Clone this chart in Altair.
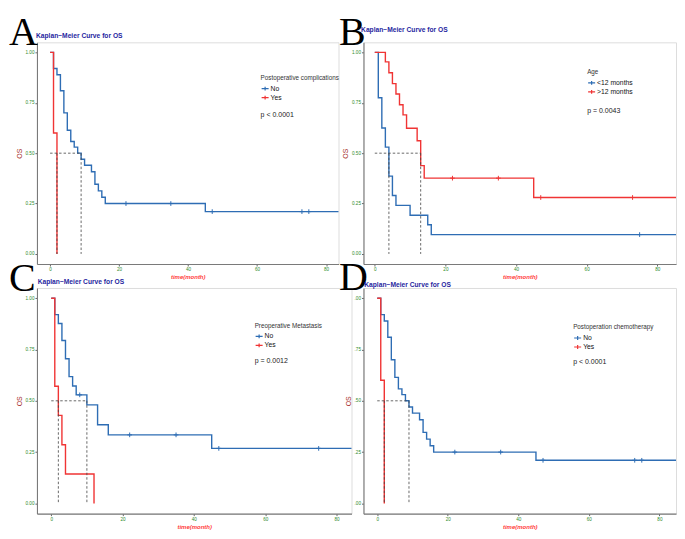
import altair as alt
import pandas as pd

# ---------------- data ----------------
# Panel A - Postoperative complications
A_GROUPS = ["No", "Yes"]
A_NO_TIME = [0, 1, 2, 3, 4, 5, 6, 7, 8, 9, 10, 12, 13, 14, 15, 16, 45, 90]
A_NO_SURV = [1.00, 0.92, 0.889, 0.81, 0.70, 0.614, 0.558, 0.53, 0.50, 0.47, 0.44, 0.408, 0.346, 0.313, 0.281, 0.25, 0.21, 0.21]
A_NO_CENS_TIME = [22, 35, 47, 73, 75]
A_NO_CENS_SURV = [0.25, 0.25, 0.21, 0.21, 0.21]
A_YES_TIME = [0, 1, 2]
A_YES_SURV = [1.00, 0.60, 0.00]
A_YES_CENS_TIME = []
A_YES_CENS_SURV = []
A_MEDIANS = [9, 2]
A_PVALUE = "p < 0.0001"

# Panel B - Age
B_GROUPS = ["<12 months", ">12 months"]
B_LT_TIME = [0, 1, 2, 3, 4, 5, 6, 10, 15, 16, 90]
B_LT_SURV = [1.00, 0.775, 0.625, 0.53, 0.386, 0.29, 0.241, 0.192, 0.145, 0.096, 0.096]
B_LT_CENS_TIME = [75]
B_LT_CENS_SURV = [0.096]
B_GT_TIME = [0, 3, 4, 5, 6, 7, 8, 9, 12, 13, 14, 45, 90]
B_GT_SURV = [1.00, 0.953, 0.899, 0.845, 0.794, 0.74, 0.69, 0.624, 0.562, 0.438, 0.376, 0.28, 0.28]
B_GT_CENS_TIME = [22, 35, 47, 73]
B_GT_CENS_SURV = [0.376, 0.376, 0.28, 0.28]
B_MEDIANS = [4, 13]
B_PVALUE = "p = 0.0043"

# Panel C - Preoperative Metastasis
C_GROUPS = ["No", "Yes"]
C_NO_TIME = [0, 1, 2, 3, 4, 5, 6, 7, 10, 13, 16, 45, 90]
C_NO_SURV = [1.00, 0.92, 0.877, 0.794, 0.705, 0.618, 0.572, 0.529, 0.48, 0.383, 0.334, 0.268, 0.268]
C_NO_CENS_TIME = [8, 22, 35, 47, 75]
C_NO_CENS_SURV = [0.529, 0.334, 0.334, 0.268, 0.268]
C_YES_TIME = [0, 1, 2, 3, 4, 12]
C_YES_SURV = [1.00, 0.571, 0.429, 0.286, 0.143, 0.00]
C_YES_CENS_TIME = []
C_YES_CENS_SURV = []
C_MEDIANS = [10, 2]
C_PVALUE = "p = 0.0012"

# Panel D - Postoperation chemotherapy
D_GROUPS = ["No", "Yes"]
D_NO_TIME = [0, 1, 2, 3, 4, 5, 6, 7, 8, 9, 10, 12, 13, 14, 15, 16, 45, 90]
D_NO_SURV = [1.00, 0.92, 0.889, 0.81, 0.70, 0.614, 0.558, 0.53, 0.50, 0.47, 0.44, 0.408, 0.346, 0.313, 0.281, 0.25, 0.21, 0.21]
D_NO_CENS_TIME = [22, 35, 47, 73, 75]
D_NO_CENS_SURV = [0.25, 0.25, 0.21, 0.21, 0.21]
D_YES_TIME = [0, 1, 2]
D_YES_SURV = [1.00, 0.60, 0.00]
D_YES_CENS_TIME = []
D_YES_CENS_SURV = []
D_MEDIANS = [9, 2]
D_PVALUE = "p < 0.0001"

X_TICKS = [0, 20, 40, 60, 80]
Y_TICKS = [0, 0.25, 0.5, 0.75, 1.0]

# ---------------- styling ----------------
BLUE = "#2E6DB4"
RED = "#F03434"
PLUS = "M0,-1V1M-1,0H1"
LEG_SYMBOL = "M-1,0H1M0,-0.55V0.55"
SANS = "Liberation Sans"


def km_panel(groups, curves, censors, medians, legend_title, pvalue, letter,
             width, height, xdom, pos, ylabel_expr=None):
    rows = []
    for g, (ts, ss) in zip(groups, curves):
        rows += [{"t": t, "s": s, "grp": g} for t, s in zip(ts, ss)]
    curve_df = pd.DataFrame(rows)
    crow = []
    for g, (ts, ss) in zip(groups, censors):
        crow += [{"t": t, "s": s, "grp": g} for t, s in zip(ts, ss)]
    cens_df = pd.DataFrame(crow, columns=["t", "s", "grp"])
    med_df = pd.DataFrame(
        [{"t": 0, "t2": max(medians), "s": 0.5, "s2": 0.5}]
        + [{"t": m, "t2": m, "s": 0.5, "s2": 0.0} for m in medians]
    )

    xaxis = alt.Axis(values=X_TICKS, title="time(month)", titleColor="#FF3B3B",
                     titleFontStyle="italic", titleFontWeight="bold", titleFontSize=6,
                     titlePadding=2, labelColor="#2E8B2E", labelFontSize=4.6,
                     labelPadding=1, tickSize=2, tickColor="#666", domainColor="#7A7A7A",
                     domainWidth=1.1, grid=False, labelFlush=False)
    ykw = dict(values=Y_TICKS, format=".2f", title="OS", titleColor="#A52A2A",
               titleFontSize=7, titleFontWeight="normal", titlePadding=3,
               labelColor="#2E8B2E", labelFontSize=4.6, labelPadding=1, tickSize=2,
               tickColor="#666", domainColor="#7A7A7A", domainWidth=1.1, grid=False,
               labelFlush=False)
    if ylabel_expr:
        ykw["labelExpr"] = ylabel_expr
    x = alt.X("t:Q", scale=alt.Scale(domain=xdom, nice=False, zero=False), axis=xaxis)
    y = alt.Y("s:Q", scale=alt.Scale(domain=[-0.05, 1.05], nice=False, zero=False),
              axis=alt.Axis(**ykw))
    color = alt.Color(
        "grp:N",
        scale=alt.Scale(domain=groups, range=[BLUE, RED]),
        legend=alt.Legend(orient="none", legendX=pos["leg"][0], legendY=pos["leg"][1],
                          title=legend_title, titleFontSize=6.3, titleFontWeight="normal",
                          titleColor="#333", titlePadding=3, titleLimit=300,
                          labelFontSize=6.8, labelColor="#111", labelOffset=1,
                          symbolType=LEG_SYMBOL, symbolSize=49, symbolStrokeWidth=1.2,
                          rowPadding=0, padding=0, offset=0),
    )

    lines = alt.Chart(curve_df).mark_line(
        interpolate="step-after", strokeWidth=1.4, clip=True
    ).encode(x=x, y=y, color=color)
    marks = alt.Chart(cens_df).mark_point(
        shape=PLUS, size=22, filled=False, strokeWidth=1, opacity=1, clip=True
    ).encode(x=x, y=y, color=color)
    rules = alt.Chart(med_df).mark_rule(
        strokeDash=[2.5, 2], color="#444", strokeWidth=0.8
    ).encode(x=x, x2="t2:Q", y=y, y2="s2:Q")

    lab = alt.Chart(pd.DataFrame({"txt": [letter]})).mark_text(
        font="Liberation Serif", fontSize=40, align="left", baseline="alphabetic",
        color="black"
    ).encode(text="txt:N", x=alt.value(pos["letter"][0]), y=alt.value(pos["letter"][1]))
    ttl = alt.Chart(pd.DataFrame({"txt": ["Kaplan\u2212Meier Curve for OS"]})).mark_text(
        font=SANS, fontSize=6.7, fontWeight="bold", align="left", baseline="middle",
        color="#1F1FA0"
    ).encode(text="txt:N", x=alt.value(pos["title"][0]), y=alt.value(pos["title"][1]))
    pv = alt.Chart(pd.DataFrame({"txt": [pvalue]})).mark_text(
        font=SANS, fontSize=7, align="left", baseline="middle", color="#222"
    ).encode(text="txt:N", x=alt.value(pos["p"][0]), y=alt.value(pos["p"][1]))

    return alt.layer(lines, marks, rules, lab, ttl, pv).properties(width=width, height=height)


panel_a = km_panel(A_GROUPS, [(A_NO_TIME, A_NO_SURV), (A_YES_TIME, A_YES_SURV)],
                   [(A_NO_CENS_TIME, A_NO_CENS_SURV), (A_YES_CENS_TIME, A_YES_CENS_SURV)],
                   A_MEDIANS, "Postoperative complications", A_PVALUE, "A",
                   302, 222, [-3.8, 83.6],
                   {"letter": (-28, 3), "title": (-1, -6), "leg": (224, 32.5), "p": (224, 72.6)})
panel_b = km_panel(B_GROUPS, [(B_LT_TIME, B_LT_SURV), (B_GT_TIME, B_GT_SURV)],
                   [(B_LT_CENS_TIME, B_LT_CENS_SURV), (B_GT_CENS_TIME, B_GT_CENS_SURV)],
                   B_MEDIANS, "Age", B_PVALUE, "B",
                   313, 222, [-3.2, 85.3],
                   {"letter": (-24.5, 3), "title": (-2.4, -12), "leg": (224, 26.8), "p": (224, 68.7)})
panel_c = km_panel(C_GROUPS, [(C_NO_TIME, C_NO_SURV), (C_YES_TIME, C_YES_SURV)],
                   [(C_NO_CENS_TIME, C_NO_CENS_SURV), (C_YES_CENS_TIME, C_YES_CENS_SURV)],
                   C_MEDIANS, "Preoperative Metastasis", C_PVALUE, "C",
                   315, 226, [-4.0, 84.2],
                   {"letter": (-28, 3), "title": (0.7, -6), "leg": (218, 34.7), "p": (218, 73.1)})
panel_d = km_panel(D_GROUPS, [(D_NO_TIME, D_NO_SURV), (D_YES_TIME, D_YES_SURV)],
                   [(D_NO_CENS_TIME, D_NO_CENS_SURV), (D_YES_CENS_TIME, D_YES_CENS_SURV)],
                   D_MEDIANS, "Postoperation chemotherapy", D_PVALUE, "D",
                   313, 226, [-3.9, 84.7],
                   {"letter": (-24.5, 2.5), "title": (0.8, -3.4), "leg": (210, 36.3), "p": (210, 74)},
                   ylabel_expr="substring(format(datum.value, '.2f'), 1)")

chart = alt.concat(
    panel_a, panel_b, panel_c, panel_d,
    columns=2, spacing={"row": 24, "column": 12}, bounds="flush",
).resolve_scale(
    color="independent", x="independent", y="independent"
).resolve_legend(
    color="independent"
).properties(
    padding={"top": 4, "left": 0, "right": 0, "bottom": 0}, background="white"
).configure_view(
    stroke=None
).configure(
    font=SANS
)

chart.save("out.html", embed_options={"renderer": "svg", "actions": False})
